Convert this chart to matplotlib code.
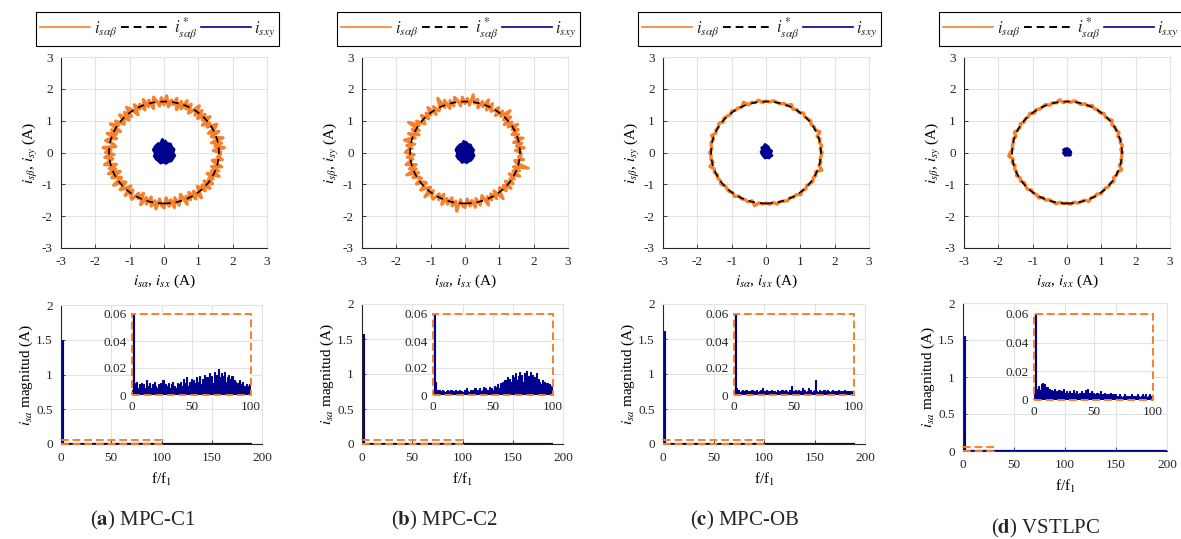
import numpy as np
import matplotlib
matplotlib.use("Agg")
import matplotlib.pyplot as plt
from matplotlib.lines import Line2D
from matplotlib.patches import Circle, Rectangle

plt.rcParams['font.family'] = ['Liberation Serif', 'DejaVu Serif']
plt.rcParams['mathtext.fontset'] = 'stix'
plt.rcParams['axes.unicode_minus'] = False
plt.rcParams['text.color'] = '#262626'
plt.rcParams['xtick.color'] = '#262626'
plt.rcParams['ytick.color'] = '#262626'
plt.rcParams['path.simplify'] = False

ORANGE = '#F7802C'
NAVY = '#00008F'
GRIDC = '#E3E3E3'

# ---- data ----
captions = ['a', 'b', 'c', 'd']
names = ['MPC-C1', 'MPC-C2', 'MPC-OB', 'VSTLPC']
r_ref = 1.6  # reference current amplitude (A)

# measured stator current trajectory, radius at evenly spaced angles
r_a = [1.64,1.44,1.76,1.50,1.70,1.42,1.78,1.55,1.47,1.73,1.43,1.67,
       1.77,1.49,1.62,1.41,1.75,1.52,1.69,1.45,1.72,1.48,1.79,1.56,
       1.43,1.71,1.51,1.76,1.46,1.68,1.40,1.74,1.53,1.66,1.44,1.78,
       1.50,1.72,1.47,1.63,1.76,1.42,1.70,1.51,1.77,1.45,1.67,1.54,
       1.73,1.41,1.64,1.79,1.48,1.71,1.44,1.75,1.52,1.46,1.72,1.58,
       1.80,1.43,1.68,1.50,1.76,1.45,1.65,1.74,1.49,1.42,1.78,1.55,
       1.70,1.46,1.73,1.51,1.62,1.77,1.44,1.67,1.50,1.75,1.41,1.71,
       1.56,1.47,1.79,1.52,1.45,1.73,1.60,1.43,1.76,1.49,1.69,1.74,
       1.48,1.63,1.42,1.77,1.51,1.70,1.45,1.72,1.54,1.78,1.47,1.66,
       1.74,1.43,1.69,1.50,1.75,1.46,1.71,1.56,1.40,1.76,1.52,1.67,
       1.45,1.73,1.49,1.79,1.58,1.44,1.70,1.51,1.75,1.47,1.72,1.54,
       1.65,1.42,1.77,1.50,1.69,1.46,1.74,1.53,1.43,1.71,1.57,1.64]
r_b = [1.62,1.47,1.73,1.51,1.68,1.45,1.75,1.54,1.66,1.48,1.71,1.55,
       1.77,1.49,1.67,1.44,1.74,1.52,1.86,1.54,1.70,1.46,1.72,1.56,
       1.50,1.73,1.47,1.79,1.53,1.68,1.45,1.71,1.57,1.83,1.49,1.70,
       1.54,1.74,1.47,1.66,1.76,1.50,1.69,1.45,1.75,1.53,1.88,1.57,
       1.51,1.71,1.46,1.78,1.54,1.68,1.49,1.73,1.55,1.47,1.72,1.58,
       1.90,1.50,1.70,1.45,1.75,1.52,1.67,1.81,1.49,1.71,1.54,1.68,
       1.74,1.48,1.69,1.53,1.64,1.76,1.47,1.70,1.51,1.84,1.49,1.71,
       1.55,1.50,1.73,1.52,1.47,1.75,1.58,1.48,1.82,1.51,1.69,1.74,
       1.50,1.67,1.45,1.77,1.53,1.70,1.47,1.72,1.55,1.86,1.49,1.68,
       1.73,1.46,1.69,1.52,1.75,1.48,1.71,1.57,1.44,1.79,1.53,1.68,
       1.50,1.72,1.47,1.83,1.56,1.49,1.70,1.52,1.75,1.48,1.71,1.55,
       1.66,1.45,1.76,1.51,1.69,1.48,1.91,1.53,1.47,1.72,1.56,1.64]
r_c = [1.62,1.58,1.64,1.59,1.63,1.57,1.70,1.60,1.62,1.58,1.64,1.61,
       1.59,1.65,1.58,1.62,1.57,1.68,1.60,1.63,1.58,1.61,1.64,1.59,
       1.62,1.57,1.66,1.60,1.63,1.58,1.71,1.59,1.62,1.60,1.64,1.58,
       1.61,1.63,1.57,1.65,1.60,1.62,1.58,1.67,1.59,1.63,1.61,1.58,
       1.64,1.60,1.62,1.57,1.69,1.59,1.63,1.58,1.62,1.60,1.65,1.58,
       1.61,1.63,1.59,1.66,1.58,1.62,1.60,1.64,1.57,1.70,1.60,1.62,
       1.59,1.63,1.58,1.65,1.60,1.61,1.64,1.58,1.62,1.59,1.67,1.60,
       1.63,1.58,1.61,1.64,1.59,1.62,1.57,1.72,1.60,1.63,1.59,1.61]
r_d = [1.60,1.57,1.63,1.58,1.62,1.56,1.64,1.59,1.61,1.57,1.66,1.60,
       1.58,1.63,1.57,1.61,1.59,1.65,1.58,1.62,1.56,1.60,1.64,1.58,
       1.61,1.57,1.67,1.59,1.62,1.57,1.63,1.60,1.58,1.62,1.56,1.64,
       1.59,1.61,1.57,1.63,1.58,1.60,1.66,1.57,1.62,1.59,1.61,1.58,
       1.65,1.70,1.58,1.63,1.57,1.61,1.59,1.64,1.58,1.62,1.56,1.60,
       1.63,1.57,1.61,1.59,1.65,1.58,1.62,1.57,1.60,1.64,1.58,1.61,
       1.59,1.63,1.57,1.62,1.60,1.58,1.66,1.59,1.61,1.57,1.63,1.60,
       1.58,1.62,1.59,1.64,1.57,1.61,1.60,1.68,1.58,1.62,1.59,1.60]

# x-y current blobs (outline points)
xy_x_a = [0.04, 0.10, 0.20, 0.24, 0.31, 0.28, 0.33, 0.27, 0.22, 0.14, 0.06, -0.02,
          -0.10, -0.18, -0.24, -0.30, -0.27, -0.33, -0.29, -0.25, -0.17, -0.12, -0.05, 0.00]
xy_y_a = [0.38, 0.30, 0.28, 0.18, 0.10, 0.00, -0.10, -0.20, -0.28, -0.30, -0.36, -0.32,
          -0.35, -0.27, -0.22, -0.12, -0.02, 0.08, 0.16, 0.22, 0.30, 0.28, 0.44, 0.36]
xy_x_b = [0.04, 0.09, 0.17, 0.21, 0.27, 0.24, 0.28, 0.23, 0.18, 0.11, 0.05, -0.02,
          -0.09, -0.15, -0.21, -0.26, -0.23, -0.28, -0.25, -0.21, -0.14, -0.10, -0.04, 0.00]
xy_y_b = [0.34, 0.27, 0.25, 0.16, 0.08, 0.00, -0.10, -0.19, -0.26, -0.29, -0.34, -0.30,
          -0.33, -0.25, -0.20, -0.11, -0.02, 0.07, 0.15, 0.20, 0.27, 0.26, 0.38, 0.32]
xy_x_c = [0.02, 0.08, 0.12, 0.18, 0.15, 0.19, 0.13, 0.09, 0.03, -0.03, -0.09, -0.13,
          -0.16, -0.12, -0.14, -0.08, -0.03]
xy_y_c = [0.24, 0.18, 0.10, 0.05, -0.03, -0.10, -0.15, -0.19, -0.17, -0.19, -0.12, -0.06,
          0.02, 0.08, 0.15, 0.20, 0.27]
xy_x_d = [0.02, 0.07, 0.10, 0.13, 0.11, 0.12, 0.06, 0.01, -0.05, -0.09, -0.12, -0.10, -0.12, -0.06]
xy_y_d = [0.14, 0.10, 0.06, 0.01, -0.04, -0.08, -0.11, -0.09, -0.11, -0.06, -0.02, 0.04, 0.09, 0.13]

# i_sa harmonic spectrum, harmonics 0..99 (A)
spec_a = [0.004,1.50,0.009,0.006,0.010,0.005,0.008,0.007,0.009,0.006,
          0.008,0.005,0.011,0.006,0.007,0.009,0.005,0.008,0.006,0.010,
          0.007,0.005,0.008,0.006,0.009,0.007,0.011,0.005,0.008,0.006,
          0.007,0.009,0.005,0.008,0.010,0.006,0.007,0.005,0.009,0.008,
          0.006,0.010,0.007,0.012,0.006,0.009,0.013,0.007,0.010,0.008,
          0.012,0.006,0.011,0.009,0.013,0.007,0.010,0.014,0.008,0.012,
          0.009,0.015,0.010,0.013,0.008,0.016,0.011,0.014,0.009,0.017,
          0.012,0.015,0.010,0.019,0.013,0.016,0.011,0.014,0.017,0.010,
          0.013,0.015,0.009,0.012,0.014,0.008,0.011,0.010,0.007,0.009,
          0.011,0.006,0.008,0.010,0.005,0.007,0.008,0.006,0.007,0.008]
spec_b = [0.004,1.57,0.010,0.004,0.003,0.004,0.002,0.003,0.004,0.003,
          0.002,0.003,0.004,0.003,0.002,0.004,0.003,0.002,0.003,0.004,
          0.003,0.002,0.004,0.003,0.003,0.002,0.004,0.003,0.005,0.003,
          0.002,0.004,0.003,0.004,0.003,0.005,0.002,0.004,0.003,0.005,
          0.003,0.004,0.006,0.003,0.005,0.004,0.003,0.006,0.004,0.005,
          0.004,0.007,0.005,0.006,0.008,0.005,0.009,0.006,0.010,0.007,
          0.011,0.008,0.013,0.009,0.012,0.010,0.015,0.009,0.013,0.016,
          0.011,0.014,0.017,0.012,0.015,0.010,0.016,0.013,0.018,0.011,
          0.014,0.017,0.012,0.015,0.010,0.013,0.016,0.009,0.012,0.010,
          0.008,0.011,0.007,0.010,0.006,0.009,0.007,0.008,0.006,0.007]
spec_c = [0.003,1.62,0.005,0.003,0.004,0.002,0.003,0.004,0.002,0.003,
          0.004,0.002,0.003,0.003,0.002,0.004,0.003,0.002,0.003,0.004,
          0.002,0.003,0.004,0.003,0.005,0.003,0.002,0.004,0.003,0.002,
          0.003,0.004,0.002,0.003,0.003,0.002,0.004,0.003,0.002,0.003,
          0.004,0.002,0.003,0.004,0.003,0.002,0.004,0.003,0.007,0.002,
          0.003,0.004,0.002,0.003,0.004,0.003,0.002,0.005,0.003,0.004,
          0.002,0.003,0.005,0.003,0.004,0.002,0.003,0.004,0.011,0.003,
          0.002,0.004,0.003,0.002,0.003,0.004,0.002,0.003,0.004,0.003,
          0.002,0.003,0.004,0.002,0.003,0.003,0.002,0.004,0.003,0.002,
          0.003,0.002,0.004,0.003,0.002,0.003,0.002,0.003,0.002,0.003]
spec_d = [0.004,1.55,0.008,0.006,0.010,0.007,0.011,0.012,0.009,0.011,
          0.007,0.009,0.006,0.008,0.005,0.007,0.006,0.008,0.005,0.006,
          0.004,0.007,0.005,0.006,0.004,0.008,0.005,0.006,0.004,0.005,
          0.006,0.004,0.005,0.007,0.004,0.005,0.006,0.004,0.005,0.004,
          0.006,0.004,0.005,0.007,0.005,0.008,0.004,0.005,0.006,0.004,
          0.005,0.003,0.004,0.005,0.003,0.004,0.006,0.003,0.004,0.005,
          0.003,0.004,0.003,0.004,0.005,0.003,0.004,0.003,0.004,0.003,
          0.002,0.003,0.004,0.003,0.002,0.003,0.004,0.002,0.003,0.003,
          0.002,0.003,0.004,0.002,0.003,0.003,0.002,0.004,0.003,0.002,
          0.003,0.004,0.002,0.003,0.004,0.002,0.003,0.004,0.003,0.003]
spec_end = [190, 190, 190, 200]     # last harmonic in the FFT
zoom_w = [100, 100, 100, 30]        # width of the dashed zoom box
zoom_h = 0.06

radii = [r_a, r_b, r_c, r_d]
blobs = [(xy_x_a, xy_y_a), (xy_x_b, xy_y_b), (xy_x_c, xy_y_c), (xy_x_d, xy_y_d)]
specs = [spec_a, spec_b, spec_c, spec_d]
traj_lw = [2.4, 2.2, 2.4, 2.4]

# ---- layout (pixels) ----
W, H = 1181, 539
def px(l, t, r, b):
    return [l / W, 1 - b / H, (r - l) / W, (b - t) / H]

top_l = [61, 362, 663, 964]
bot_box = [(61, 305, 262, 444), (362, 304, 563, 444), (663, 304, 865, 444), (963, 303, 1167, 451)]
ins_box = [(132, 314, 251, 395), (433, 314, 553, 395), (734, 314, 854, 395), (1034, 314, 1153, 400)]
cap_pos = [(143, 520), (444, 520), (745, 520), (1046, 528)]

fig = plt.figure(figsize=(W / 100, H / 100), dpi=100)

def style(ax, fs=9.5):
    ax.grid(True, color=GRIDC, lw=0.8)
    ax.set_axisbelow(True)
    for s in ['left', 'bottom']:
        ax.spines[s].set_color('#262626')
        ax.spines[s].set_linewidth(0.8)
    for s in ['top', 'right']:
        ax.spines[s].set_color(GRIDC)
    ax.tick_params(direction='in', length=3, width=0.6, labelsize=fs, pad=6,
                   top=False, right=False)

for i in range(4):
    # trajectory plot
    ax = fig.add_axes(px(top_l[i], 57, top_l[i] + 206, 248))
    style(ax)
    r = np.array(radii[i] + radii[i][:1])
    th = np.linspace(0, 2 * np.pi, len(r))
    ax.plot(r * np.cos(th), r * np.sin(th), color=ORANGE, lw=traj_lw[i],
            solid_joinstyle='round', zorder=2)
    ax.add_patch(Circle((0, 0), r_ref, fill=False, ls=(0, (4, 3)), ec='black', lw=1.2, zorder=3))
    bx, by = blobs[i]
    ax.fill(bx, by, color=NAVY, lw=1.2, zorder=4)
    ax.set_xlim(-3, 3)
    ax.set_ylim(-3, 3)
    ax.set_xticks(range(-3, 4))
    ax.set_yticks(range(-3, 4))
    ax.set_xlabel(r'$i_{s\alpha}$, $i_{sx}$ (A)', fontsize=11, labelpad=3)
    ax.set_ylabel(r'$i_{s\beta}$, $i_{sy}$ (A)', fontsize=11, labelpad=1)
    handles = [Line2D([], [], color=ORANGE, lw=1.2),
               Line2D([], [], color='black', lw=1.4, ls=(0, (4, 2.5))),
               Line2D([], [], color=NAVY, lw=1.2)]
    leg = ax.legend(handles, [r'$i_{s\alpha\beta}$', r'$i^*_{s\alpha\beta}$', r'$i_{sxy}$'],
                    loc='lower center', bbox_to_anchor=(0.47, 1.055), borderaxespad=0,
                    ncol=3, fontsize=12, handlelength=3.0, handletextpad=0.2,
                    columnspacing=0.2, borderpad=0.25, fancybox=False, framealpha=1,
                    edgecolor='black')
    leg.get_frame().set_linewidth(0.8)

    # spectrum
    sp = specs[i]
    h = np.arange(len(sp))
    l, t, rr, b = bot_box[i]
    ax2 = fig.add_axes(px(l, t, rr, b))
    style(ax2)
    ax2.bar(h, sp, width=1.0, color=NAVY, lw=0.8, ec=NAVY, zorder=2)
    ax2.hlines(0, 0, spec_end[i], color=NAVY, lw=1.6, zorder=2)
    ax2.add_patch(Rectangle((0, 0), zoom_w[i], zoom_h, fill=False, ec=ORANGE,
                            ls=(0, (4, 2)), lw=1.4, zorder=3, clip_on=False))
    ax2.set_xlim(0, 200)
    ax2.set_ylim(0, 2)
    ax2.set_xticks([0, 50, 100, 150, 200])
    ax2.set_yticks([0, 0.5, 1, 1.5, 2])
    ax2.set_yticklabels(['0', '0.5', '1', '1.5', '2'])
    ax2.set_xlabel(r'f/f$_1$', fontsize=11, labelpad=5)
    ax2.set_ylabel(r'$i_{sa}$ magnitud (A)', fontsize=11, labelpad=1)

    # zoomed inset
    l, t, rr, b = ins_box[i]
    ax3 = fig.add_axes(px(l, t, rr, b))
    ax3.set_facecolor('white')
    ax3.grid(True, color=GRIDC, lw=0.8)
    ax3.set_axisbelow(True)
    for s in ax3.spines.values():
        s.set_visible(False)
    ax3.bar(h, sp, width=1.0, color=NAVY, lw=0.8, ec=NAVY, zorder=2)
    ax3.add_patch(Rectangle((0, 0), 1, 1, transform=ax3.transAxes, fill=False, ec=ORANGE,
                            ls=(0, (4, 2)), lw=1.4, zorder=3, clip_on=False))
    ax3.set_xlim(0, 100)
    ax3.set_ylim(0, 0.06)
    ax3.set_xticks([0, 50, 100])
    ax3.set_yticks([0, 0.02, 0.04, 0.06])
    ax3.set_yticklabels(['0', '0.02', '0.04', '0.06'])
    ax3.tick_params(length=0, labelsize=9.5, pad=4)

    cx, cy = cap_pos[i]
    fig.text(cx / W, 1 - cy / H, r'($\mathbf{' + captions[i] + r'}$) ' + names[i],
             ha='center', va='center', fontsize=15)

fig.savefig('out.png', dpi=100)
